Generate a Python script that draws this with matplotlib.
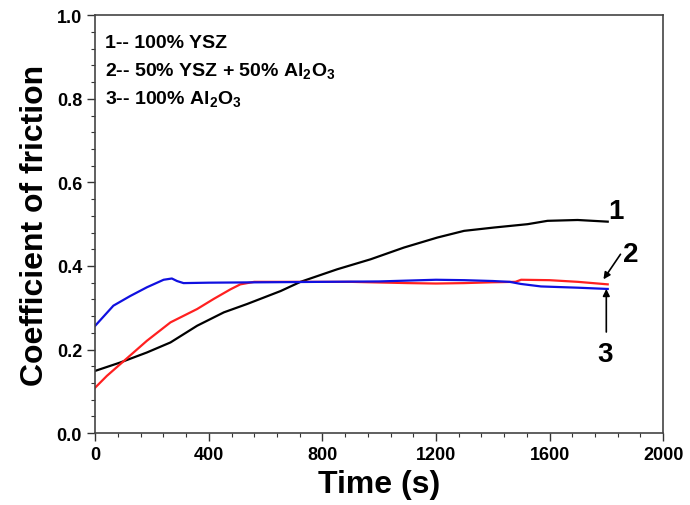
import matplotlib
matplotlib.use("Agg")
import matplotlib.pyplot as plt
from matplotlib.ticker import MultipleLocator

plt.rcParams["font.family"] = ["Liberation Sans", "DejaVu Sans"]
plt.rcParams["font.weight"] = "bold"
plt.rcParams["mathtext.fontset"] = "custom"
plt.rcParams["mathtext.rm"] = "Liberation Sans:bold"
plt.rcParams["mathtext.bf"] = "Liberation Sans:bold"

# Curve 1: 100% YSZ
t_ysz = [0, 88, 182, 265, 359, 453, 535, 653, 723, 852, 970, 1087, 1205, 1299,
         1405, 1523, 1593, 1699, 1805]
cof_ysz = [0.149, 0.169, 0.193, 0.217, 0.257, 0.289, 0.309, 0.340, 0.362, 0.392,
           0.416, 0.444, 0.468, 0.484, 0.492, 0.500, 0.508, 0.510, 0.506]

# Curve 2: 50% YSZ + 50% Al2O3
t_mix = [0, 41, 88, 182, 265, 359, 417, 476, 511, 560, 700, 900, 1100, 1200,
         1300, 1400, 1480, 1500, 1600, 1700, 1805]
cof_mix = [0.109, 0.137, 0.165, 0.221, 0.265, 0.297, 0.321, 0.344, 0.356, 0.362,
           0.362, 0.362, 0.359, 0.358, 0.359, 0.361, 0.362, 0.367, 0.366, 0.362, 0.356]

# Curve 3: 100% Al2O3
t_al = [0, 64, 123, 182, 241, 270, 288, 311, 400, 600, 800, 1000, 1100, 1200,
        1300, 1400, 1460, 1499, 1570, 1700, 1805]
cof_al = [0.257, 0.305, 0.328, 0.349, 0.367, 0.370, 0.364, 0.359, 0.360, 0.361,
          0.362, 0.363, 0.365, 0.367, 0.366, 0.364, 0.362, 0.357, 0.351, 0.348, 0.345]

legend_lines = [
    "1-- 100% YSZ",
    r"2-- 50% YSZ + 50% Al$_\mathbf{2}$O$_\mathbf{3}$",
    r"3-- 100% Al$_\mathbf{2}$O$_\mathbf{3}$",
]

fig = plt.figure(figsize=(6.9, 5.06), dpi=100)
ax = fig.add_axes([0.138, 0.142, 0.823, 0.826])

ax.plot(t_ysz, cof_ysz, color="black", lw=1.6)
ax.plot(t_mix, cof_mix, color="#ff2020", lw=1.6)
ax.plot(t_al, cof_al, color="#1010e0", lw=1.6)

ax.set_xlim(0, 2000)
ax.set_ylim(0, 1.0)
ax.xaxis.set_major_locator(MultipleLocator(400))
ax.xaxis.set_minor_locator(MultipleLocator(80))
ax.yaxis.set_major_locator(MultipleLocator(0.2))
ax.yaxis.set_minor_locator(MultipleLocator(0.04))
ax.yaxis.set_major_formatter(plt.FormatStrFormatter("%.1f"))
ax.tick_params(which="major", direction="out", length=6, width=1.0,
               labelsize=13, colors="#333333", labelcolor="black")
ax.tick_params(which="minor", direction="out", length=3, width=0.8, colors="#333333")
for lab in ax.get_xticklabels() + ax.get_yticklabels():
    lab.set_fontweight("bold")
for sp in ax.spines.values():
    sp.set_color("#444444")
    sp.set_linewidth(1.2)

ax.set_xlabel("Time (s)", fontsize=23, fontweight="bold", labelpad=4)
ax.set_ylabel("Coefficient of friction", fontsize=23, fontweight="bold", labelpad=5)

for i, txt in enumerate(legend_lines):
    ax.text(35, 0.935 - i * 0.068, txt, fontsize=14, fontweight="bold",
            ha="left", va="center")

# curve labels and pointers
ax.text(1835, 0.531, "1", fontsize=20, fontweight="bold", ha="center", va="center")
ax.text(1885, 0.428, "2", fontsize=20, fontweight="bold", ha="center", va="center")
ax.text(1795, 0.189, "3", fontsize=20, fontweight="bold", ha="center", va="center")
ax.annotate("", xy=(1790, 0.368), xytext=(1850, 0.428),
            arrowprops=dict(arrowstyle="-|>", color="black", lw=1.2,
                            mutation_scale=10, shrinkA=0, shrinkB=0))
ax.annotate("", xy=(1800, 0.345), xytext=(1800, 0.242),
            arrowprops=dict(arrowstyle="-|>", color="black", lw=1.2,
                            mutation_scale=10, shrinkA=0, shrinkB=0))

fig.savefig("out.png", dpi=100)
